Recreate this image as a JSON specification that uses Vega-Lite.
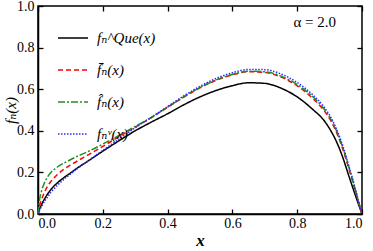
{
  "$schema": "https://vega.github.io/schema/vega-lite/v6.json",
  "width": 324,
  "height": 208,
  "autosize": {"type": "none"},
  "padding": {"left": 38, "top": 6, "right": 11, "bottom": 37},
  "background": "white",
  "config": {
    "font": "Times New Roman, Liberation Serif, DejaVu Serif, serif",
    "view": {"stroke": "black", "strokeWidth": 1.5},
    "axis": {
      "grid": false,
      "domainColor": "black",
      "domainWidth": 1.5,
      "tickColor": "black",
      "tickWidth": 1.3,
      "tickSize": -5,
      "labelFont": "Times New Roman, Liberation Serif, DejaVu Serif, serif",
      "labelFontSize": 14,
      "labelColor": "black",
      "titleFont": "Times New Roman, Liberation Serif, DejaVu Serif, serif",
      "titleColor": "black",
      "titleFontWeight": "normal"
    },
    "legend": {
      "labelFont": "Times New Roman, Liberation Serif, DejaVu Serif, serif",
      "labelFontSize": 15,
      "labelColor": "black",
      "labelFontStyle": "italic"
    }
  },
  "datasets": {
    "curves": [
      {"x": 0, "y": 0, "s": "Que"}, {"x": 0.005, "y": 0.025, "s": "Que"}, {"x": 0.01, "y": 0.042, "s": "Que"}, {"x": 0.02, "y": 0.072, "s": "Que"}, {"x": 0.03, "y": 0.097, "s": "Que"}, {"x": 0.04, "y": 0.118, "s": "Que"}, {"x": 0.06, "y": 0.15, "s": "Que"}, {"x": 0.08, "y": 0.175, "s": "Que"}, {"x": 0.1, "y": 0.197, "s": "Que"}, {"x": 0.125, "y": 0.225, "s": "Que"}, {"x": 0.15, "y": 0.25, "s": "Que"}, {"x": 0.2, "y": 0.302, "s": "Que"}, {"x": 0.25, "y": 0.352, "s": "Que"}, {"x": 0.3, "y": 0.4, "s": "Que"}, {"x": 0.35, "y": 0.442, "s": "Que"}, {"x": 0.4, "y": 0.482, "s": "Que"}, {"x": 0.45, "y": 0.525, "s": "Que"}, {"x": 0.5, "y": 0.563, "s": "Que"}, {"x": 0.55, "y": 0.594, "s": "Que"}, {"x": 0.6, "y": 0.617, "s": "Que"}, {"x": 0.65, "y": 0.631, "s": "Que"}, {"x": 0.7, "y": 0.628, "s": "Que"}, {"x": 0.75, "y": 0.605, "s": "Que"}, {"x": 0.8, "y": 0.563, "s": "Que"}, {"x": 0.85, "y": 0.5, "s": "Que"}, {"x": 0.88, "y": 0.455, "s": "Que"}, {"x": 0.9, "y": 0.41, "s": "Que"}, {"x": 0.92, "y": 0.352, "s": "Que"}, {"x": 0.94, "y": 0.275, "s": "Que"}, {"x": 0.96, "y": 0.18, "s": "Que"}, {"x": 0.98, "y": 0.088, "s": "Que"}, {"x": 0.99, "y": 0.043, "s": "Que"}, {"x": 1.0, "y": 0, "s": "Que"},
      {"x": 0, "y": 0, "s": "bar"}, {"x": 0.005, "y": 0.04, "s": "bar"}, {"x": 0.01, "y": 0.065, "s": "bar"}, {"x": 0.02, "y": 0.105, "s": "bar"}, {"x": 0.03, "y": 0.135, "s": "bar"}, {"x": 0.04, "y": 0.157, "s": "bar"}, {"x": 0.06, "y": 0.19, "s": "bar"}, {"x": 0.08, "y": 0.215, "s": "bar"}, {"x": 0.1, "y": 0.235, "s": "bar"}, {"x": 0.125, "y": 0.258, "s": "bar"}, {"x": 0.15, "y": 0.28, "s": "bar"}, {"x": 0.2, "y": 0.325, "s": "bar"}, {"x": 0.25, "y": 0.372, "s": "bar"}, {"x": 0.3, "y": 0.418, "s": "bar"}, {"x": 0.35, "y": 0.463, "s": "bar"}, {"x": 0.4, "y": 0.513, "s": "bar"}, {"x": 0.45, "y": 0.562, "s": "bar"}, {"x": 0.5, "y": 0.607, "s": "bar"}, {"x": 0.55, "y": 0.643, "s": "bar"}, {"x": 0.6, "y": 0.669, "s": "bar"}, {"x": 0.65, "y": 0.684, "s": "bar"}, {"x": 0.7, "y": 0.681, "s": "bar"}, {"x": 0.75, "y": 0.658, "s": "bar"}, {"x": 0.8, "y": 0.616, "s": "bar"}, {"x": 0.85, "y": 0.553, "s": "bar"}, {"x": 0.88, "y": 0.503, "s": "bar"}, {"x": 0.9, "y": 0.458, "s": "bar"}, {"x": 0.92, "y": 0.397, "s": "bar"}, {"x": 0.94, "y": 0.315, "s": "bar"}, {"x": 0.96, "y": 0.215, "s": "bar"}, {"x": 0.98, "y": 0.108, "s": "bar"}, {"x": 0.99, "y": 0.052, "s": "bar"}, {"x": 1.0, "y": 0, "s": "bar"},
      {"x": 0, "y": 0, "s": "hat"}, {"x": 0.005, "y": 0.07, "s": "hat"}, {"x": 0.01, "y": 0.105, "s": "hat"}, {"x": 0.02, "y": 0.15, "s": "hat"}, {"x": 0.03, "y": 0.18, "s": "hat"}, {"x": 0.04, "y": 0.2, "s": "hat"}, {"x": 0.06, "y": 0.226, "s": "hat"}, {"x": 0.08, "y": 0.245, "s": "hat"}, {"x": 0.1, "y": 0.261, "s": "hat"}, {"x": 0.125, "y": 0.28, "s": "hat"}, {"x": 0.15, "y": 0.297, "s": "hat"}, {"x": 0.2, "y": 0.336, "s": "hat"}, {"x": 0.25, "y": 0.378, "s": "hat"}, {"x": 0.3, "y": 0.421, "s": "hat"}, {"x": 0.35, "y": 0.465, "s": "hat"}, {"x": 0.4, "y": 0.514, "s": "hat"}, {"x": 0.45, "y": 0.563, "s": "hat"}, {"x": 0.5, "y": 0.608, "s": "hat"}, {"x": 0.55, "y": 0.645, "s": "hat"}, {"x": 0.6, "y": 0.671, "s": "hat"}, {"x": 0.65, "y": 0.686, "s": "hat"}, {"x": 0.7, "y": 0.684, "s": "hat"}, {"x": 0.75, "y": 0.663, "s": "hat"}, {"x": 0.8, "y": 0.622, "s": "hat"}, {"x": 0.85, "y": 0.561, "s": "hat"}, {"x": 0.88, "y": 0.511, "s": "hat"}, {"x": 0.9, "y": 0.466, "s": "hat"}, {"x": 0.92, "y": 0.405, "s": "hat"}, {"x": 0.94, "y": 0.323, "s": "hat"}, {"x": 0.96, "y": 0.222, "s": "hat"}, {"x": 0.98, "y": 0.113, "s": "hat"}, {"x": 0.99, "y": 0.055, "s": "hat"}, {"x": 1.0, "y": 0, "s": "hat"},
      {"x": 0, "y": 0, "s": "v"}, {"x": 0.005, "y": 0.018, "s": "v"}, {"x": 0.01, "y": 0.033, "s": "v"}, {"x": 0.02, "y": 0.06, "s": "v"}, {"x": 0.03, "y": 0.083, "s": "v"}, {"x": 0.04, "y": 0.104, "s": "v"}, {"x": 0.06, "y": 0.138, "s": "v"}, {"x": 0.08, "y": 0.167, "s": "v"}, {"x": 0.1, "y": 0.192, "s": "v"}, {"x": 0.125, "y": 0.222, "s": "v"}, {"x": 0.15, "y": 0.25, "s": "v"}, {"x": 0.2, "y": 0.306, "s": "v"}, {"x": 0.25, "y": 0.36, "s": "v"}, {"x": 0.3, "y": 0.415, "s": "v"}, {"x": 0.35, "y": 0.465, "s": "v"}, {"x": 0.4, "y": 0.517, "s": "v"}, {"x": 0.45, "y": 0.568, "s": "v"}, {"x": 0.5, "y": 0.614, "s": "v"}, {"x": 0.55, "y": 0.652, "s": "v"}, {"x": 0.6, "y": 0.679, "s": "v"}, {"x": 0.65, "y": 0.695, "s": "v"}, {"x": 0.7, "y": 0.694, "s": "v"}, {"x": 0.75, "y": 0.673, "s": "v"}, {"x": 0.8, "y": 0.632, "s": "v"}, {"x": 0.85, "y": 0.57, "s": "v"}, {"x": 0.88, "y": 0.52, "s": "v"}, {"x": 0.9, "y": 0.475, "s": "v"}, {"x": 0.92, "y": 0.413, "s": "v"}, {"x": 0.94, "y": 0.331, "s": "v"}, {"x": 0.96, "y": 0.228, "s": "v"}, {"x": 0.98, "y": 0.117, "s": "v"}, {"x": 0.99, "y": 0.058, "s": "v"}, {"x": 1.0, "y": 0, "s": "v"}
    ],
    "note": [{"label": "α = 2.0", "x": 0.92, "y": 0.925}]
  },
  "layer": [
    {
      "data": {"name": "curves"},
      "mark": {"type": "line", "strokeWidth": 1.5, "interpolate": "monotone"},
      "encoding": {
        "x": {
          "field": "x", "type": "quantitative",
          "scale": {"domain": [0, 1], "nice": false},
          "axis": {"values": [0, 0.2, 0.4, 0.6, 0.8, 1.0], "format": ".1f", "title": "x", "titleFontStyle": "italic", "titleFontSize": 17, "titleFontWeight": "bold", "titlePadding": 2, "labelPadding": 7}
        },
        "y": {
          "field": "y", "type": "quantitative",
          "scale": {"domain": [0, 1], "nice": false},
          "axis": {"values": [0, 0.2, 0.4, 0.6, 0.8, 1.0], "format": ".1f", "title": "fₙ(x)", "titleFontStyle": "italic", "titleFontSize": 15, "titleX": -28, "titleY": 104, "titleBaseline": "middle", "titleAlign": "center", "labelPadding": 9}
        },
        "color": {
          "field": "s", "type": "nominal",
          "scale": {"domain": ["Que", "bar", "hat", "v"], "range": ["#000000", "#ff0000", "#1f8f1f", "#2b2bff"]},
          "legend": {
            "title": null,
            "orient": "none",
            "legendX": 19,
            "legendY": 16,
            "padding": 0,
            "rowPadding": 8,
            "symbolType": "stroke",
            "symbolSize": 900,
            "symbolStrokeWidth": 1.5,
            "labelOffset": 8,
            "labelExpr": "datum.value == 'Que' ? 'fₙ^Que(x)' : datum.value == 'bar' ? 'f̄ₙ(x)' : datum.value == 'hat' ? 'f̂ₙ(x)' : 'fₙᵛ(x)'"
          }
        },
        "strokeDash": {
          "field": "s", "type": "nominal",
          "scale": {"domain": ["Que", "bar", "hat", "v"], "range": [[1, 0], [5, 3], [7, 2, 2, 2], [1.5, 1.5]]},
          "legend": {
            "title": null,
            "orient": "none",
            "legendX": 19,
            "legendY": 16,
            "padding": 0,
            "rowPadding": 8,
            "symbolType": "stroke",
            "symbolSize": 900,
            "symbolStrokeWidth": 1.5,
            "labelOffset": 8,
            "labelExpr": "datum.value == 'Que' ? 'fₙ^Que(x)' : datum.value == 'bar' ? 'f̄ₙ(x)' : datum.value == 'hat' ? 'f̂ₙ(x)' : 'fₙᵛ(x)'"
          }
        }
      }
    },
    {
      "data": {"name": "note"},
      "mark": {"type": "text", "fontSize": 15, "align": "right", "baseline": "middle", "color": "black"},
      "encoding": {
        "x": {"field": "x", "type": "quantitative", "scale": {"domain": [0, 1], "nice": false}, "axis": {"orient": "top", "values": [0, 0.2, 0.4, 0.6, 0.8, 1.0], "labels": false, "title": null, "domain": false}},
        "y": {"field": "y", "type": "quantitative", "scale": {"domain": [0, 1], "nice": false}, "axis": {"orient": "right", "values": [0, 0.2, 0.4, 0.6, 0.8, 1.0], "labels": false, "title": null, "domain": false}},
        "text": {"field": "label", "type": "nominal"}
      }
    }
  ],
  "resolve": {"axis": {"x": "independent", "y": "independent"}}
}
